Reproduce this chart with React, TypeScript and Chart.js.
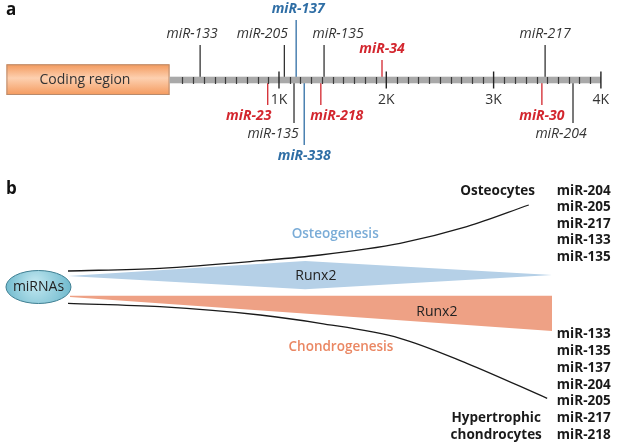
import React, { useEffect, useRef } from 'react';
import { Chart, registerables } from 'chart.js';

Chart.register(...registerables);

// ---------------- Panel a: 3'UTR map (positions in bp) ----------------
const utrLength = 4000;
const minorTickStep = 100;
const utrTickValues = [1000, 2000, 3000, 4000];
const utrTickLabels = ['1K', '2K', '3K', '4K'];
const codingRegionLabel = 'Coding region';
const codingRegionSpan = [-1540, -20];

const siteNames = ['miR-133', 'miR-205', 'miR-137', 'miR-135', 'miR-34', 'miR-217', 'miR-23', 'miR-135', 'miR-338', 'miR-218', 'miR-30', 'miR-204'];
const sitePositions = [265, 1050, 1160, 1420, 1960, 3480, 895, 1140, 1235, 1390, 3450, 3740];
const siteGroups = ['plain', 'plain', 'blue', 'plain', 'red', 'plain', 'red', 'plain', 'blue', 'red', 'red', 'plain'];

// ---------------- Panel b: differentiation schematic ----------------
const osteoCurveStage = [0, 19, 39.7, 52.1, 68.6, 82.4, 95.2];
const osteoCurveLevel = [16, 18.7, 26.3, 32, 43.7, 60.3, 82];
const chondroCurveStage = [0, 19, 39.7, 52.1, 68.6, 82.4, 99];
const chondroCurveLevel = [-16.3, -19.7, -28, -36.3, -51.3, -76.3, -111.3];
const osteoRunx2Stage = [0, 49, 100];
const osteoRunx2Top = [11, 26, 12];
const osteoRunx2Bottom = [11, -2.3, 12];
const chondroRunx2Stage = [0.4, 100];
const chondroRunx2Top = [-8.7, -8.7];
const chondroRunx2Bottom = [-10, -44];
const osteocyteMiRs = ['miR-204', 'miR-205', 'miR-217', 'miR-133', 'miR-135'];
const hypertrophicMiRs = ['miR-133', 'miR-135', 'miR-137', 'miR-204', 'miR-205', 'miR-217', 'miR-218'];

// ---------------- layout / style ----------------
const FONT = '"Open Sans", "Liberation Sans", sans-serif';
const COLORS: Record<string, string> = { plain: '#333333', red: '#d3262e', blue: '#2f6ea5' };
const TIER: Record<string, number> = { upHigh: 60, up: 35, upLow: 20, downLow: -25, downMid: -43, downHigh: -65 };
const siteTiers = ['up', 'up', 'upHigh', 'up', 'upLow', 'up', 'downLow', 'downMid', 'downHigh', 'downLow', 'downLow', 'downMid'];
const siteLabelShift = [-8, -22, 2, 14, 0, 0, -19, -21, 0, 16, 0, -12];

function PanelA() {
  const ref = useRef<HTMLCanvasElement>(null);
  useEffect(() => {
    const datasets = siteNames.map((name, i) => ({
      label: name,
      data: [
        { x: sitePositions[i], y: 0 },
        { x: sitePositions[i], y: TIER[siteTiers[i]] },
      ],
      showLine: true,
      borderColor: COLORS[siteGroups[i]],
      borderWidth: 1.3,
      pointRadius: 0,
    }));
    const plugin = {
      id: 'utrMap',
      beforeDatasetsDraw(chart: any) {
        const ctx = chart.ctx;
        const xs = chart.scales.x;
        const ys = chart.scales.y;
        const x1 = xs.getPixelForValue(codingRegionSpan[0]);
        const x2 = xs.getPixelForValue(codingRegionSpan[1]);
        const yt = ys.getPixelForValue(15.7);
        const yb = ys.getPixelForValue(-15);
        const g = ctx.createLinearGradient(0, yt, 0, yb);
        g.addColorStop(0, '#f3995c');
        g.addColorStop(0.45, '#fdd0b0');
        g.addColorStop(1, '#f49a5e');
        ctx.save();
        ctx.fillStyle = g;
        ctx.fillRect(x1, yt, x2 - x1, yb - yt);
        ctx.strokeStyle = '#b88a6c';
        ctx.lineWidth = 1;
        ctx.strokeRect(x1 + 0.5, yt + 0.5, x2 - x1 - 1, yb - yt - 1);
        ctx.fillStyle = '#333';
        ctx.font = `14px ${FONT}`;
        ctx.textAlign = 'center';
        ctx.textBaseline = 'middle';
        ctx.fillText(codingRegionLabel, (x1 + x2) / 2 - 3, (yt + yb) / 2);
        ctx.font = `bold 17px ${FONT}`;
        ctx.textAlign = 'left';
        ctx.fillStyle = '#111';
        ctx.fillText('a', 6, 10);
        ctx.restore();
      },
      afterDatasetsDraw(chart: any) {
        const ctx = chart.ctx;
        const xs = chart.scales.x;
        const ys = chart.scales.y;
        const y0 = ys.getPixelForValue(0);
        const xStart = xs.getPixelForValue(codingRegionSpan[1]);
        const xEnd = xs.getPixelForValue(utrLength);
        ctx.save();
        ctx.fillStyle = '#a9a9a9';
        ctx.fillRect(xStart, y0 - 3.3, xEnd - xStart, 6.6);
        ctx.strokeStyle = '#3a3a3a';
        ctx.lineWidth = 1.2;
        for (let v = minorTickStep; v < utrLength; v += minorTickStep) {
          if (utrTickValues.includes(v)) continue;
          const x = Math.round(xs.getPixelForValue(v)) + 0.5;
          ctx.beginPath();
          ctx.moveTo(x, y0 - 3);
          ctx.lineTo(x, y0 + 4);
          ctx.stroke();
        }
        ctx.strokeStyle = '#222';
        ctx.lineWidth = 1.4;
        ctx.font = `14px ${FONT}`;
        ctx.textAlign = 'center';
        ctx.textBaseline = 'middle';
        ctx.fillStyle = '#333';
        utrTickValues.forEach((v, i) => {
          const x = xs.getPixelForValue(v);
          ctx.beginPath();
          ctx.moveTo(x, y0 - 8.5);
          ctx.lineTo(x, y0 + 8.5);
          ctx.stroke();
          ctx.fillText(utrTickLabels[i], x, y0 + 20);
        });
        siteNames.forEach((name, i) => {
          const tier = TIER[siteTiers[i]];
          const colored = siteGroups[i] !== 'plain';
          ctx.font = `${colored ? 'bold ' : ''}italic 14px ${FONT}`;
          ctx.fillStyle = colored ? COLORS[siteGroups[i]] : '#333';
          const x = xs.getPixelForValue(sitePositions[i]) + siteLabelShift[i];
          const y = ys.getPixelForValue(tier + (tier > 0 ? 11 : -11));
          ctx.fillText(name, x, y);
        });
        ctx.restore();
      },
    };
    const chart = new Chart(ref.current as HTMLCanvasElement, {
      type: 'scatter',
      data: { datasets },
      options: {
        animation: false,
        responsive: false,
        devicePixelRatio: 1,
        layout: { padding: 0 },
        plugins: { legend: { display: false }, tooltip: { enabled: false } },
        scales: {
          x: { type: 'linear', display: false, min: -1600, max: 4150 },
          y: { type: 'linear', display: false, min: -85, max: 80 },
        },
      },
      plugins: [plugin],
    } as any);
    return () => chart.destroy();
  }, []);
  return <canvas ref={ref} width={617} height={165} style={{ display: 'block' }} />;
}

function pts(xs: number[], ys: number[]) {
  return xs.map((x, i) => ({ x, y: ys[i] }));
}

function PanelB() {
  const ref = useRef<HTMLCanvasElement>(null);
  useEffect(() => {
    const line = { showLine: true, pointRadius: 0, borderWidth: 0, fill: false };
    const datasets: any[] = [
      { ...line, label: 'osteoTop', data: pts(osteoRunx2Stage, osteoRunx2Top), borderColor: 'rgba(0,0,0,0)', tension: 0 },
      { ...line, label: 'osteoBottom', data: pts(osteoRunx2Stage, osteoRunx2Bottom), borderColor: 'rgba(0,0,0,0)', backgroundColor: '#b5d0e7', fill: '-1', tension: 0 },
      { ...line, label: 'chondroTop', data: pts(chondroRunx2Stage, chondroRunx2Top), borderColor: 'rgba(0,0,0,0)', tension: 0 },
      { ...line, label: 'chondroBottom', data: pts(chondroRunx2Stage, chondroRunx2Bottom), borderColor: 'rgba(0,0,0,0)', backgroundColor: '#eea185', fill: '-1', tension: 0 },
      { ...line, label: 'Osteogenesis', data: pts(osteoCurveStage, osteoCurveLevel), borderColor: '#1a1a1a', borderWidth: 1.3, cubicInterpolationMode: 'monotone' },
      { ...line, label: 'Chondrogenesis', data: pts(chondroCurveStage, chondroCurveLevel), borderColor: '#1a1a1a', borderWidth: 1.3, cubicInterpolationMode: 'monotone' },
    ];
    const plugin = {
      id: 'schematic',
      afterDatasetsDraw(chart: any) {
        const ctx = chart.ctx;
        const xs = chart.scales.x;
        const ys = chart.scales.y;
        const X = (v: number) => xs.getPixelForValue(v);
        const Y = (v: number) => ys.getPixelForValue(v);
        ctx.save();
        // letter b
        ctx.font = `bold 17px ${FONT}`;
        ctx.fillStyle = '#111';
        ctx.textAlign = 'left';
        ctx.textBaseline = 'middle';
        ctx.fillText('b', 6, 24);
        // miRNAs ellipse
        const cx = X(-6.1), cy = Y(0);
        const g = ctx.createRadialGradient(cx - 4, cy - 4, 2, cx, cy, 34);
        g.addColorStop(0, '#bfe6ef');
        g.addColorStop(1, '#6db8cc');
        ctx.beginPath();
        ctx.ellipse(cx, cy, 32.5, 16.5, 0, 0, Math.PI * 2);
        ctx.fillStyle = g;
        ctx.fill();
        ctx.strokeStyle = '#3f7f92';
        ctx.lineWidth = 1;
        ctx.stroke();
        ctx.fillStyle = '#222';
        ctx.textAlign = 'center';
        ctx.font = `14px ${FONT}`;
        ctx.fillText('miRNAs', cx, cy);
        // Runx2 labels
        ctx.fillStyle = '#222';
        ctx.fillText('Runx2', X(51.2), Y(11));
        ctx.fillText('Runx2', X(76.2), Y(-25));
        // process labels
        ctx.font = `600 13.5px ${FONT}`;
        ctx.fillStyle = '#7aacd7';
        ctx.fillText('Osteogenesis', X(55.2), Y(53));
        ctx.fillStyle = '#ea8763';
        ctx.fillText('Chondrogenesis', X(56.4), Y(-60));
        // cell types and miR lists
        ctx.font = `bold 13.5px ${FONT}`;
        ctx.fillStyle = '#1a1a1a';
        ctx.textAlign = 'right';
        ctx.fillText('Osteocytes', X(96.5), Y(96));
        ctx.fillText('Hypertrophic', X(97.7), Y(-131));
        ctx.fillText('chondrocytes', X(97.9), Y(-148));
        ctx.textAlign = 'left';
        osteocyteMiRs.forEach((m, i) => ctx.fillText(m, X(101), Y(96.3) + i * 16.6));
        hypertrophicMiRs.forEach((m, i) => ctx.fillText(m, X(101), Y(-47) + i * 16.9));
        ctx.restore();
      },
    };
    const chart = new Chart(ref.current as HTMLCanvasElement, {
      type: 'scatter',
      data: { datasets },
      options: {
        animation: false,
        responsive: false,
        devicePixelRatio: 1,
        layout: { padding: 0 },
        plugins: { legend: { display: false }, tooltip: { enabled: false }, filler: { propagate: false } },
        scales: {
          x: { type: 'linear', display: false, min: -14.05, max: 113.43 },
          y: { type: 'linear', display: false, min: -161, max: 122 },
        },
      },
      plugins: [plugin],
    } as any);
    return () => chart.destroy();
  }, []);
  return <canvas ref={ref} width={617} height={283} style={{ display: 'block' }} />;
}

export default function App() {
  return (
    <div style={{ position: 'absolute', left: 0, top: 0, width: 617, height: 448, background: '#fff' }}>
      <PanelA />
      <PanelB />
    </div>
  );
}
